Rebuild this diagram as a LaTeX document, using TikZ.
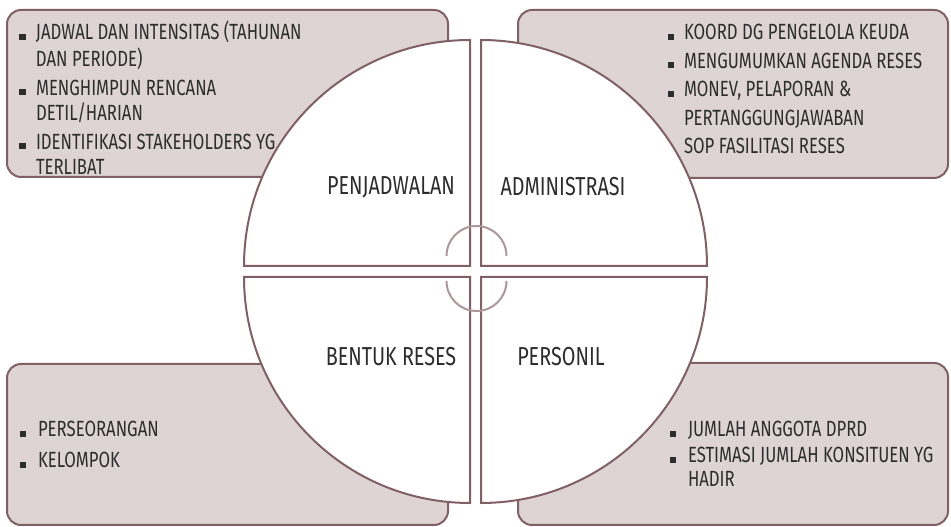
\documentclass[tikz,border=0pt]{standalone}
\usepackage{fontspec}
\usepackage{tikz}
\usetikzlibrary{positioning}
\newfontfamily\agency{Fira Sans}[FakeStretch=0.76]
\definecolor{rim}{RGB}{128,96,100}
\definecolor{boxfill}{RGB}{222,212,212}
\definecolor{hookgray}{RGB}{172,152,155}
\definecolor{ink}{RGB}{45,45,45}
\newcommand{\bul}{\rule{6pt}{6pt}}

\begin{document}
\begin{tikzpicture}[x=1pt, y=1pt, line width=2pt,
  infobox/.style={draw=rim, fill=boxfill, rounded corners=14pt},
  quarter/.style={draw=rim, fill=white},
  hook/.style={draw=hookgray, line width=2pt},
  label/.style={font=\agency\fontsize{26}{30}\selectfont, text=ink},
  list/.style={text=ink, align=left, inner sep=0pt, anchor=base west}]

  \useasboundingbox (0,0) rectangle (951,527);

  % boxes behind the circle
  \draw[infobox] (7,350) rectangle (448,517);
  \draw[infobox] (518,349) rectangle (948,517);
  \draw[infobox] (7,2) rectangle (448,163);
  \draw[infobox] (518,2) rectangle (948,164);

  % four quarters
  \draw[quarter] (470,261) -- (244,261) arc (180:90:226) -- cycle;
  \draw[quarter] (481,261) -- (481,487) arc (90:0:226) -- cycle;
  \draw[quarter] (470,250) -- (470,24) arc (270:180:226) -- cycle;
  \draw[quarter] (481,250) -- (707,250) arc (0:-90:226) -- cycle;

  % hooks in the middle
  \draw[hook] (506.5,271) arc (0:180:30);
  \draw[hook] (446.5,246) arc (180:360:30);

  \node[label] (penjadwalan) at (391,340) {PENJADWALAN};
  \node[label, right of=penjadwalan, node distance=172pt] (administrasi) {ADMINISTRASI};
  \node[label, below of=penjadwalan, node distance=170pt] (bentuk) {BENTUK RESES};
  \node[label, right of=bentuk, node distance=170pt] (personil) {PERSONIL};

  \node[list, font=\agency\fontsize{22}{25}\selectfont] (jadwal) at (18.5,487) {%
    \begin{tabular}[t]{@{}l@{\hspace{10.5pt}}l@{}}
      \bul & JADWAL DAN INTENSITAS (TAHUNAN\\
           & DAN PERIODE)\\[4pt]
      \bul & MENGHIMPUN RENCANA\\
           & DETIL/HARIAN\\[4pt]
      \bul & IDENTIFIKASI STAKEHOLDERS YG\\
           & TERLIBAT
    \end{tabular}};
  \node[list, font=\agency\fontsize{22}{28.5}\selectfont] (koord) at (667,487) {%
    \begin{tabular}[t]{@{}l@{\hspace{10pt}}l@{}}
      \bul & KOORD DG PENGELOLA KEUDA\\
      \bul & MENGUMUMKAN AGENDA RESES\\
      \bul & MONEV, PELAPORAN \&\\
           & PERTANGGUNGJAWABAN\\
           & SOP FASILITASI RESES
    \end{tabular}};
  \node[list, font=\agency\fontsize{22}{31}\selectfont] (perseorangan) at (19,90) {%
    \begin{tabular}[t]{@{}l@{\hspace{12pt}}l@{}}
      \bul & PERSEORANGAN\\
      \bul & KELOMPOK
    \end{tabular}};
  \node[list, font=\agency\fontsize{22}{24}\selectfont] (jumlah) at (669,90) {%
    \begin{tabular}[t]{@{}l@{\hspace{12pt}}l@{}}
      \bul & JUMLAH ANGGOTA DPRD\\[2pt]
      \bul & ESTIMASI JUMLAH KONSITUEN YG\\
           & HADIR
    \end{tabular}};

\end{tikzpicture}
\end{document}
